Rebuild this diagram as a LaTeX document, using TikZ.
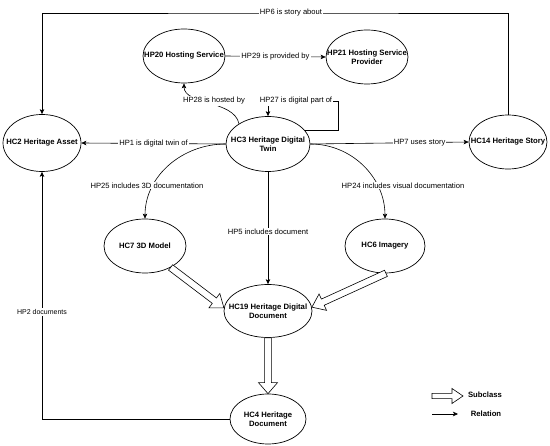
\documentclass[tikz,border=0pt]{standalone}
\usepackage{fontspec}
\setmainfont{Liberation Sans}
\usetikzlibrary{calc,arrows.meta,shapes.geometric}
\tikzset{
 ent/.style={ellipse, draw, line width=0.7pt, inner sep=0pt},
 etext/.style={font=\bfseries\fontsize{7.7}{9.2}\selectfont, align=center, inner sep=0pt},
 rel/.style={line width=0.6pt, -{Stealth[length=5pt,width=4.5pt,inset=1.2pt]}},
 lbl/.style={font=\fontsize{7.6}{9}\selectfont, fill=white, inner sep=1pt},
 subst/.style={line width=0.6pt, fill=white, line join=miter},
 legtext/.style={font=\bfseries\fontsize{7.7}{9}\selectfont, inner sep=0pt},
}
\newcommand\mysubarrow[5]{%
 \coordinate (sbH) at ($(#2)!#5!(#1)$);
 \draw[subst] ($(#1)!#3!90:(#2)$) -- ($(sbH)!#3!90:(#2)$) -- ($(sbH)!#4!90:(#2)$) -- (#2)
   -- ($(sbH)!#4!-90:(#2)$) -- ($(sbH)!#3!-90:(#2)$) -- ($(#1)!#3!-90:(#2)$) -- cycle;}
\begin{document}
\begin{tikzpicture}[x=1pt,y=-1pt]
\useasboundingbox[fill=white] (0,0) rectangle (550,446);

% entities
\node[ent, minimum width=82pt, minimum height=54pt, label={[etext]center:HP20 Hosting Service}] (hs) at (184,56) {};
\node[ent, minimum width=82pt, minimum height=54pt, label={[etext]center:{HP21 Hosting Service\\Provider}}] (hsp) at (367,57) {};
\node[ent, minimum width=78pt, minimum height=57pt, label={[etext]center:HC2 Heritage Asset}] (hc2) at (42,143) {};
\node[ent, minimum width=84pt, minimum height=55pt, label={[etext]center:{HC3 Heritage Digital\\Twin}}] (hc3) at (268,144) {};
\node[ent, minimum width=78pt, minimum height=54pt, label={[etext]center:HC14 Heritage Story}] (hc14) at (508,142) {};
\node[ent, minimum width=82pt, minimum height=54pt, label={[etext]center:HC7 3D Model}] (hc7) at (145,246) {};
\node[ent, minimum width=80pt, minimum height=54pt, label={[etext]center:HC6 Imagery}] (hc6) at (385,246) {};
\node[ent, minimum width=88pt, minimum height=53pt, label={[etext]center:{HC19 Heritage Digital\\Document}}] (hc19) at (268,311) {};
\node[ent, minimum width=76pt, minimum height=50pt, label={[etext]center:{HC4 Heritage\\Document}}] (hc4) at (268,419) {};

% helper coordinates
\coordinate (hp6top) at (291,13);
\coordinate (hp27c) at (338,101);

% relations
\draw[rel] (hc14.north) |- (hp6top) -| (hc2.north) node[lbl] at (hp6top) {HP6 is story about};
\draw[rel] (hs.east) -- node[lbl] {HP29 is provided by} (hsp.west);
\draw[rel] (hc3.145) .. controls (234,100) and (184,105) .. (hs.south) node[lbl] at (214,101) {HP28 is hosted by};
\draw[rel] (hc3.21) -| (hp27c) -| (hc3.north) node[lbl] at (296,101) {HP27 is digital part of};
\draw[rel] (hc3.west) -- node[lbl] {HP1 is digital twin of} (hc2.east);
\draw[rel] (hc3.east) -- node[lbl, pos=0.69] {HP7 uses story} (hc14.west);
\draw[rel] (hc3.west) to[out=180,in=90] (hc7.north) node[lbl] at (147,185.5) {HP25 includes 3D documentation};
\draw[rel] (hc3.east) to[out=0,in=90] (hc6.north) node[lbl] at (403,185.5) {HP24 includes visual documentation};
\draw[rel] (hc3.south) -- (hc19.north) node[lbl] at (268,231.5) {HP5 includes document};
\draw[rel] (hc4.west) -| (hc2.south) node[lbl, font=\fontsize{7}{8}\selectfont] at (42,312) {HP2 documents};

% subclass arrows
\mysubarrow{hc7.-40}{hc19.176}{3.4pt}{9pt}{12pt}
\mysubarrow{hc6.-88}{hc19.5}{3.4pt}{9pt}{12pt}
\mysubarrow{hc19.south}{hc4.north}{3.4pt}{9.5pt}{11pt}

% legend
\coordinate (lga) at (432,396);
\coordinate (lgb) at (463,396);
\coordinate (lgc) at (432,414);
\coordinate (lgd) at (458,414);
\mysubarrow{lga}{lgb}{2.6pt}{7.5pt}{11pt}
\draw[rel] (lgc) -- (lgd);
\node[legtext] (lgsub) at (485,395) {Subclass};
\node[legtext] (lgrel) at (486,414) {Relation};
\end{tikzpicture}
\end{document}
